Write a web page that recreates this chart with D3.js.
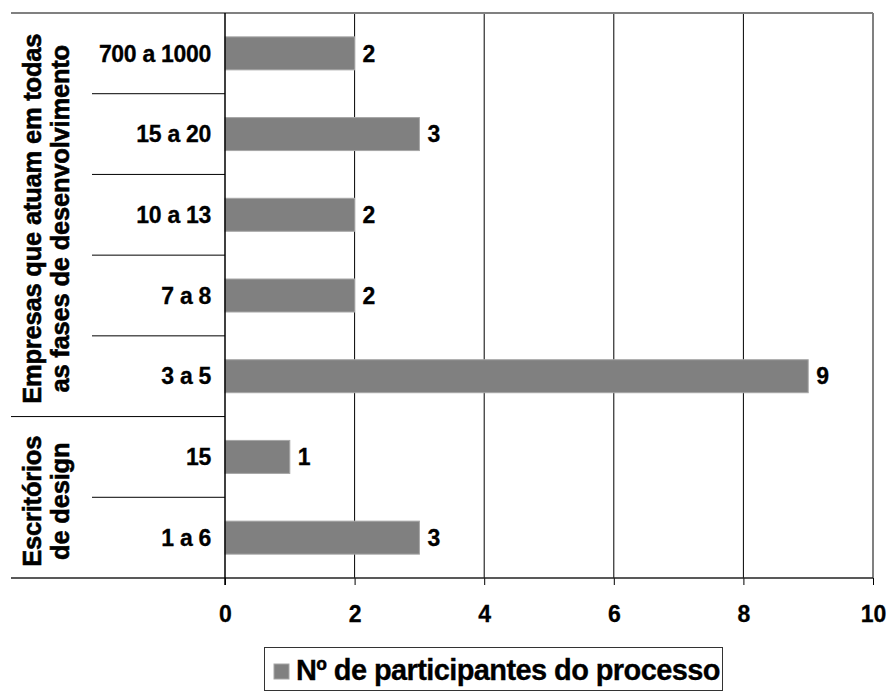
<!DOCTYPE html>
<html>
<head>
<meta charset="utf-8">
<script src="https://cdn.jsdelivr.net/npm/d3@7"></script>
<style>
  body { margin: 0; background: #fff; }
  text { font-family: "Liberation Sans", Arial, sans-serif; font-weight: bold; fill: #000; }
</style>
</head>
<body>
<script>
var categories = ['700 a 1000', '15 a 20', '10 a 13', '7 a 8', '3 a 5', '15', '1 a 6'];
var values = [2, 3, 2, 2, 9, 1, 3];
var groupOf = [0, 0, 0, 0, 0, 1, 1];
var groupLines = [
  ['Empresas que atuam em todas', 'as fases de desenvolvimento'],
  ['Escritórios', 'de design']
];
var xTicks = [0, 2, 4, 6, 8, 10];
var seriesName = 'Nº de participantes do processo';

// plot edges (window.top is reserved, hence the prefix)
var plotL = 225, plotR = 873, plotT = 13, plotB = 578;

var svg = d3.select('body').append('svg')
  .attr('width', 889)
  .attr('height', 693);

var x = d3.scaleLinear().domain([0, 10]).range([plotL, plotR]);
var y = d3.scaleBand().domain(categories).range([plotT, plotB]).padding(0);
var barH = 33;

// gridlines
svg.selectAll('.grid').data(xTicks.slice(1, -1))
  .enter()
  .append('line')
  .attr('x1', function(d) {return x(d)})
  .attr('x2', function(d) {return x(d)})
  .attr('y1', plotT)
  .attr('y2', plotB)
  .attr('stroke', '#000')
  .attr('stroke-width', 1);

// plot border (top, right) in gray
svg.append('line')
  .attr('x1', 11).attr('x2', plotR)
  .attr('y1', plotT).attr('y2', plotT)
  .attr('stroke', '#808080').attr('stroke-width', 2);
svg.append('line')
  .attr('x1', plotR).attr('x2', plotR)
  .attr('y1', plotT).attr('y2', plotB)
  .attr('stroke', '#808080').attr('stroke-width', 2);

// bars
svg.selectAll('.bar').data(values)
  .enter()
  .append('rect')
  .attr('class', 'bar')
  .attr('x', x(0))
  .attr('y', function(d, i) {return y(categories[i]) + y.bandwidth() / 2 - barH / 2})
  .attr('width', function(d) {return x(d) - x(0)})
  .attr('height', barH)
  .attr('fill', '#808080')
  .attr('stroke', '#a6a6a6')
  .attr('stroke-width', 1);

// value labels
svg.selectAll('.val').data(values)
  .enter()
  .append('text')
  .attr('x', function(d) {return x(d) + 8})
  .attr('y', function(d, i) {return y(categories[i]) + y.bandwidth() / 2})
  .attr('dy', '0.36em')
  .style('font-size', '23px')
  .attr('stroke', '#000').attr('stroke-width', 0.3)
  .text(function(d) {return d});

// x axis
var xAxis = d3.axisBottom(x).tickValues(xTicks).tickSize(7).tickPadding(21);
var gx = svg.append('g')
  .attr('transform', 'translate(0,' + plotB + ')')
  .call(xAxis);
gx.select('.domain').remove();
gx.selectAll('.tick line').attr('stroke', '#000');
gx.selectAll('.tick text')
  .style('font-size', '23px')
  .style('font-family', '"Liberation Sans", Arial, sans-serif')
  .style('font-weight', 'bold')
  .attr('fill', '#000')
  .attr('stroke', '#000').attr('stroke-width', 0.3);

svg.append('line')
  .attr('x1', 11).attr('x2', plotR)
  .attr('y1', plotB).attr('y2', plotB)
  .attr('stroke', '#222').attr('stroke-width', 1.5);

// y axis line
svg.append('line')
  .attr('x1', plotL).attr('x2', plotL)
  .attr('y1', plotT).attr('y2', plotB + 7)
  .attr('stroke', '#000').attr('stroke-width', 1.5);

// category labels
svg.selectAll('.cat').data(categories)
  .enter()
  .append('text')
  .attr('x', 211)
  .attr('y', function(d) {return y(d) + y.bandwidth() / 2})
  .attr('dy', '0.36em')
  .attr('text-anchor', 'end')
  .style('font-size', '23px')
  .style('letter-spacing', '-0.3px')
  .attr('stroke', '#000').attr('stroke-width', 0.3)
  .text(function(d) {return d});

// separators between categories
var seps = categories.slice(1).map(function(c, i) {
  return {y: y(c), full: groupOf[i] != groupOf[i + 1]};
});
svg.selectAll('.sep').data(seps)
  .enter()
  .append('line')
  .attr('x1', function(d) {return d.full ? 11 : 92})
  .attr('x2', plotL)
  .attr('y1', function(d) {return d.y})
  .attr('y2', function(d) {return d.y})
  .attr('stroke', '#000')
  .attr('stroke-width', 1);

// group labels (rotated)
groupLines.forEach(function(lines, g) {
  var members = categories.filter(function(c, i) {return groupOf[i] == g});
  var y0 = y(members[0]);
  var y1 = y(members[members.length - 1]) + y.bandwidth();
  var cy = (y0 + y1) / 2 + 4;
  lines.forEach(function(t, k) {
    svg.append('text')
      .attr('transform', 'translate(' + (41 + k * 28) + ',' + cy + ') rotate(-90)')
      .attr('text-anchor', 'middle')
      .style('font-size', '25.5px')
      .style('font-weight', 'bold')
      .style('letter-spacing', '-0.2px')
      .attr('stroke', '#000').attr('stroke-width', 0.6)
      .text(t);
  });
});

// legend
var lg = svg.append('g');
lg.append('rect')
  .attr('x', 264.5).attr('y', 647.5)
  .attr('width', 458).attr('height', 43)
  .attr('fill', '#fff')
  .attr('stroke', '#333')
  .attr('stroke-width', 1);
lg.append('rect')
  .attr('x', 274).attr('y', 664)
  .attr('width', 15).attr('height', 15)
  .attr('fill', '#808080')
  .attr('stroke', '#a6a6a6');
lg.append('text')
  .attr('x', 296)
  .attr('y', 680)
  .style('font-size', '29px')
  .style('letter-spacing', '-0.6px')
  .attr('stroke', '#000').attr('stroke-width', 0.3)
  .text(seriesName);
</script>
</body>
</html>
